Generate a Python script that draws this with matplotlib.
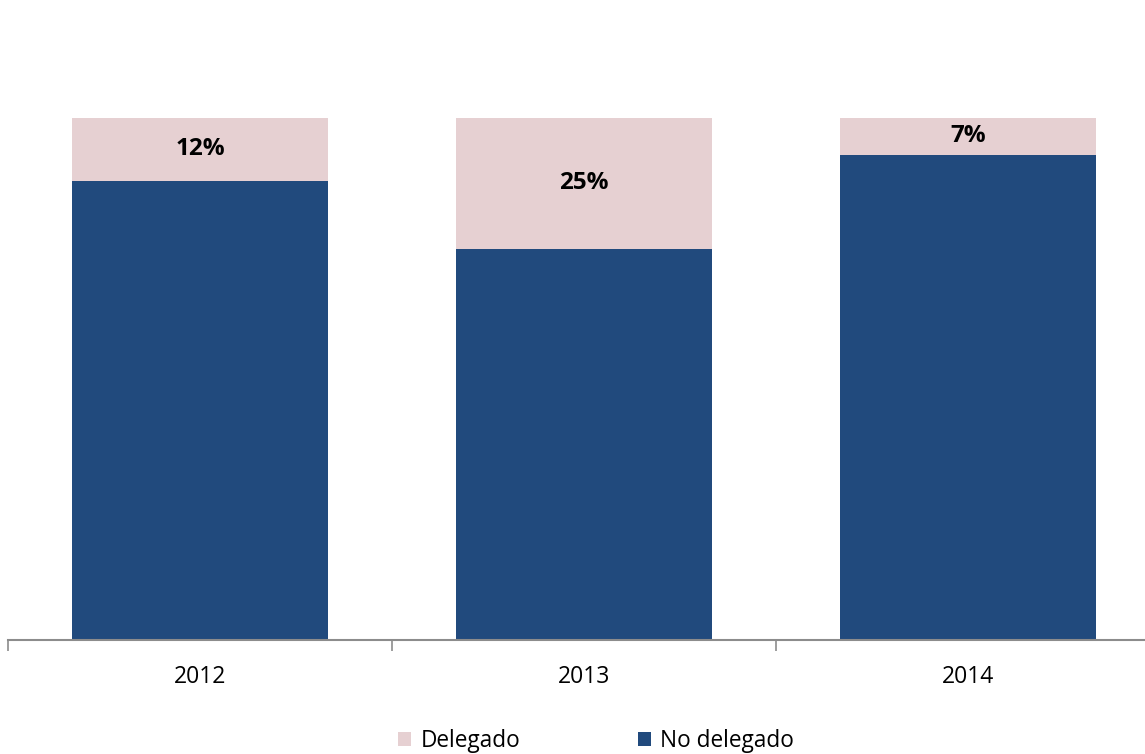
import matplotlib
matplotlib.use("Agg")
import matplotlib.pyplot as plt
from matplotlib.patches import Patch

years = ["2012", "2013", "2014"]
delegado = [12, 25, 7]
no_delegado = [88, 75, 93]

col_del = "#E6D0D2"
col_no = "#214A7D"

plt.rcParams["font.family"] = ["Open Sans", "DejaVu Sans"]

fig = plt.figure(figsize=(11.45, 7.54), dpi=100)
W, H = 1145, 754
# axes spans x: 8..1160 px, y: 118..640 px
ax = fig.add_axes([8 / W, (H - 640) / H, 1152 / W, (640 - 118) / H])

x = list(range(len(years)))
ax.bar(x, no_delegado, width=2 / 3, color=col_no, zorder=2)
ax.bar(x, delegado, width=2 / 3, bottom=no_delegado, color=col_del, zorder=2)

for xi, d, n in zip(x, delegado, no_delegado):
    ax.text(xi, n + d / 2, f"{d}%", ha="center", va="center",
            fontsize=17.5, fontweight="bold", color="black", zorder=3)

ax.set_xlim(-0.5, 2.5)
ax.set_ylim(0, 100)
ax.set_yticks([])
ax.set_xticks([-0.5, 0.5, 1.5, 2.5])
ax.set_xticklabels([])
ax.tick_params(axis="x", length=8, width=1.2, color="#8C8C8C", direction="out")
for xi, lab in zip(x, years):
    ax.text(xi, -7, lab, ha="center", va="center", fontsize=16.5, color="black")

for s in ["top", "right", "left"]:
    ax.spines[s].set_visible(False)
ax.spines["bottom"].set_color("#8C8C8C")
ax.spines["bottom"].set_linewidth(1.5)

handles = [Patch(facecolor=col_del, label="Delegado"),
           Patch(facecolor=col_no, label="No delegado")]
fig.legend(handles=handles, loc="center", bbox_to_anchor=(596 / W, (H - 741) / H),
           ncol=2, frameon=False, fontsize=16.3, handlelength=0.6, handleheight=0.6,
           handletextpad=0.4, columnspacing=5.2, borderpad=0)

fig.savefig("out.png", dpi=100)
